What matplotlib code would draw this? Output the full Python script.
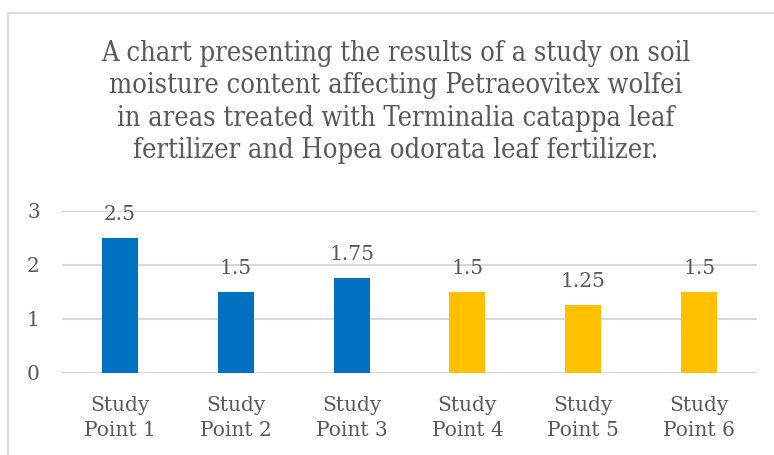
import matplotlib.pyplot as plt
from matplotlib.patches import Rectangle

# chart data
categories = ["Study\nPoint 1", "Study\nPoint 2", "Study\nPoint 3",
              "Study\nPoint 4", "Study\nPoint 5", "Study\nPoint 6"]
values = [2.5, 1.5, 1.75, 1.5, 1.25, 1.5]
value_labels = ["2.5", "1.5", "1.75", "1.5", "1.25", "1.5"]
bar_colors = ["#0070C0", "#0070C0", "#0070C0", "#FFC000", "#FFC000", "#FFC000"]
y_ticks = [0, 1, 2, 3]

title_lines = ["A chart presenting the results of a study on soil",
               "moisture content affecting Petraeovitex wolfei",
               "in areas treated with Terminalia catappa leaf",
               "fertilizer and Hopea odorata leaf fertilizer."]

text_color = "#595959"
grid_color = "#D9D9D9"
serif = ["DejaVu Serif"]

W, H = 774, 455
fig = plt.figure(figsize=(W / 100, H / 100), dpi=100)

# outer chart border (runs off right and bottom edges)
fig.patches.append(Rectangle((7.5 / W, -0.1), 1.2, 1 - 12.5 / H + 0.1,
                             transform=fig.transFigure, fill=False,
                             edgecolor=grid_color, linewidth=1.3))

ax = fig.add_axes([62 / W, 1 - 373 / H, (757 - 62) / W, (373 - 210.7) / H])
x = range(len(categories))
ax.bar(x, values, width=0.31, color=bar_colors, zorder=3)
ax.set_xlim(-0.5, len(categories) - 0.5)
ax.set_ylim(0, 3)
ax.set_yticks(y_ticks)
ax.set_xticks(list(x))
ax.set_xticklabels(categories, family=serif, fontsize=14.5, color=text_color,
                   linespacing=1.4)
ax.set_yticklabels([str(t) for t in y_ticks], family=serif, fontsize=14.5,
                   color=text_color)
ax.tick_params(axis="both", length=0)
ax.tick_params(axis="y", pad=16)
ax.tick_params(axis="x", pad=16.5)
for s in ax.spines.values():
    s.set_visible(False)
ax.yaxis.grid(True, color=grid_color, linewidth=1.5, zorder=0)
ax.set_axisbelow(True)

for i, v in enumerate(values):
    ax.annotate(value_labels[i], (i, v), xytext=(0, 17), textcoords="offset points",
                ha="center", va="center", family=serif, fontsize=14.5,
                color=text_color)

# title, one line at a time so the baselines sit where the reference has them
for k, line in enumerate(title_lines):
    fig.text(396 / W, 1 - (60.7 + 32.5 * k) / H, line, ha="center",
             va="baseline", family=serif, stretch="condensed", fontsize=19.5,
             color=text_color)

fig.savefig("out.png", dpi=100)
